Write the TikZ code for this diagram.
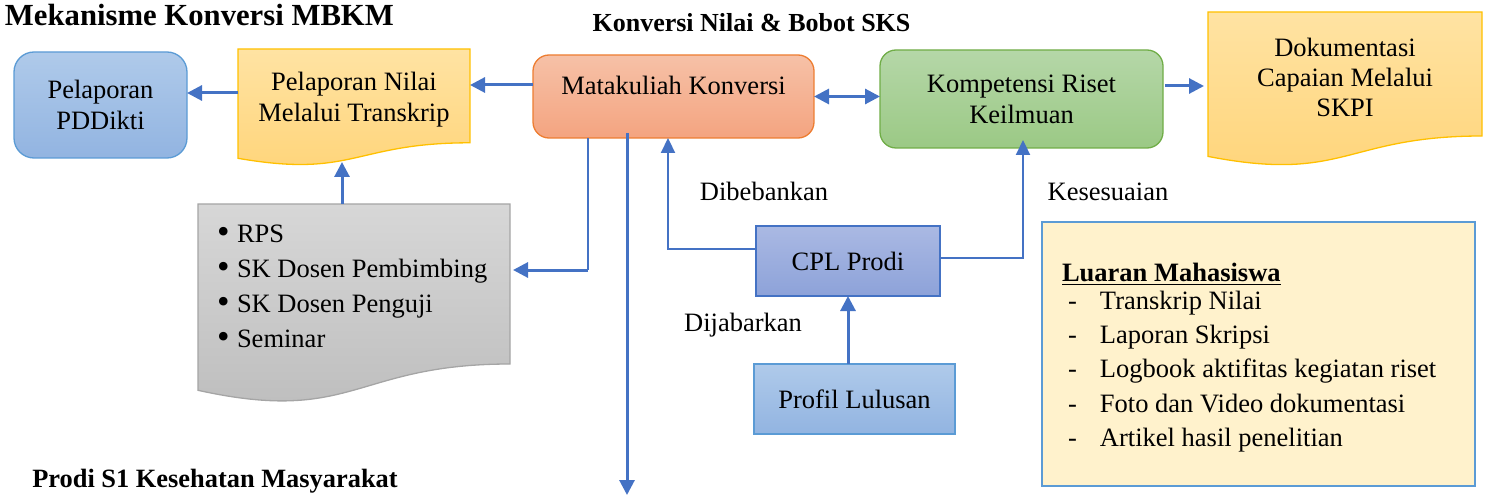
\documentclass[tikz,border=0pt]{standalone}
\usepackage{fontspec}
\setmainfont{Liberation Serif}
\usetikzlibrary{arrows.meta,calc}
\definecolor{arr}{HTML}{4472C4}
\definecolor{pdtop}{HTML}{AFCAEA}
\definecolor{pdbot}{HTML}{92B4E1}
\definecolor{bdblue}{HTML}{5B9BD5}
\definecolor{yltop}{HTML}{FFE3A3}
\definecolor{ylbot}{HTML}{FFD478}
\definecolor{ylbd}{HTML}{FFC000}
\definecolor{ortop}{HTML}{F6C1A7}
\definecolor{orbot}{HTML}{F4A480}
\definecolor{orbd}{HTML}{ED7D31}
\definecolor{grtop}{HTML}{B5D7A8}
\definecolor{grbot}{HTML}{9BC985}
\definecolor{grbd}{HTML}{70AD47}
\definecolor{cpltop}{HTML}{AAB9E3}
\definecolor{cplbot}{HTML}{8DA2D9}
\definecolor{gytop}{HTML}{D7D7D7}
\definecolor{gybot}{HTML}{BCBCBC}
\definecolor{gybd}{HTML}{A5A5A5}
\definecolor{lufill}{HTML}{FFF2CC}
\newcommand\myul[1]{\setbox0\hbox{#1}\rlap{\rule[-4pt]{\wd0}{1.8pt}}\box0}
\newcommand\mybul{\makebox[20pt][l]{\raisebox{-1.5pt}{\scalebox{1.35}{\textbullet}}}}
\begin{document}
\begin{tikzpicture}[x=1pt,y=-1pt,
  txt/.style={font=\fontsize{26.5}{31}\selectfont, align=center, inner sep=0pt, outer sep=0pt},
  shapebox/.style={inner sep=0pt, outer sep=0pt, line width=1.3pt},
  bound/.style={inner sep=0pt, outer sep=0pt, draw=none},
  docyellow/.style={draw=ylbd, line width=1.3pt, top color=yltop, bottom color=ylbot},
  docgray/.style={draw=gybd, line width=1.3pt, top color=gytop, bottom color=gybot},
  arrowthick/.style={draw=arr, line width=3pt, -{Triangle[length=15pt,width=15pt]}},
  arrowthin/.style={draw=arr, line width=2.2pt, -{Triangle[length=15pt,width=14pt]}},
  linethin/.style={draw=arr, line width=1.6pt},
  bothway/.style={draw=arr, line width=3pt, {Triangle[length=15pt,width=15pt]}-{Triangle[length=15pt,width=15pt]}}]
\useasboundingbox (0,0) rectangle (1491,497);

% document shapes
\path[docyellow] (238,49) -- (470,49) -- (470,142.8) .. controls (354,142.8) and (354,178.5) .. (238,158.3) -- cycle;
\path[docyellow] (1208,12) -- (1482,12) -- (1482,136) .. controls (1345,136) and (1345,183.1) .. (1208,156.4) -- cycle;
\path[docgray] (198,204) -- (510,204) -- (510,364) .. controls (354,364) and (354,424.8) .. (198,390.3) -- cycle;

% titles
\node[txt, font=\fontsize{30.7}{36}\selectfont\bfseries, anchor=base west] (title) at (5,25.5) {Mekanisme Konversi MBKM};
\node[txt, font=\fontsize{26}{31}\selectfont\bfseries, anchor=base] (sub) at (751.5,32) {Konversi Nilai \& Bobot SKS};
\node[txt, font=\fontsize{26.4}{31}\selectfont\bfseries, anchor=base] (prodi) at (215,487) {Prodi S1 Kesehatan Masyarakat};

% boxes
\node[txt, shapebox, rounded corners=20pt, draw=bdblue, top color=pdtop, bottom color=pdbot, minimum width=173pt, minimum height=106pt] (pd) at (100.5,105) {Pelaporan\\PDDikti};
\node[bound, minimum width=232pt, minimum height=114pt] (pn) at (354,106) {};
\node[txt] (pnt) at (354,99.5) {Pelaporan Nilai\\Melalui Transkrip};
\node[shapebox, rounded corners=16pt, draw=orbd, top color=ortop, bottom color=orbot, minimum width=281pt, minimum height=83pt] (mk) at (673.5,96.5) {};
\node[txt] (mkt) at (673.5,85) {Matakuliah Konversi};
\node[txt, shapebox, rounded corners=16pt, draw=grbd, top color=grtop, bottom color=grbot, minimum width=283pt, minimum height=98pt] (kr) at (1021.5,99) {Kompetensi Riset\\Keilmuan};
\node[bound, minimum width=274pt, minimum height=150.7pt] (doc) at (1345,87.35) {};
\node[txt, font=\fontsize{26.5}{30}\selectfont] (doct) at (1345,77) {Dokumentasi\\Capaian Melalui\\SKPI};
\node[bound, minimum width=312pt, minimum height=194.5pt] (gray) at (354,301.25) {};
\node[txt, align=left, font=\fontsize{26.5}{35}\selectfont, anchor=north west] (grayt) at (217,224.5)
  {\mybul RPS\\\mybul SK Dosen Pembimbing\\\mybul SK Dosen Penguji\\\mybul Seminar};
\node[txt, shapebox, draw=arr, top color=cpltop, bottom color=cplbot, minimum width=184pt, minimum height=70pt] (cpl) at (848,261) {CPL Prodi};
\node[txt, shapebox, draw=bdblue, top color=pdtop, bottom color=pdbot, minimum width=201pt, minimum height=70pt] (pl) at (854.5,399) {Profil Lulusan};
\node[shapebox, line width=2.6pt, draw=bdblue, fill=lufill, minimum width=433pt, minimum height=264pt] (lu) at (1258.5,354) {};
\node[txt, align=left, font=\fontsize{26.5}{34.2}\selectfont, anchor=north west] (lut) at (1062,263)
  {\myul{\bfseries Luaran Mahasiswa}\\[-6pt]
   \makebox[38pt][l]{\hspace{6pt}-}Transkrip Nilai\\
   \makebox[38pt][l]{\hspace{6pt}-}Laporan Skripsi\\
   \makebox[38pt][l]{\hspace{6pt}-}Logbook aktifitas kegiatan riset\\
   \makebox[38pt][l]{\hspace{6pt}-}Foto dan Video dokumentasi\\
   \makebox[38pt][l]{\hspace{6pt}-}Artikel hasil penelitian};

% labels
\node[txt, anchor=base] (lb1) at (764,200.5) {Dibebankan};
\node[txt, anchor=base] (lb2) at (1108,200.5) {Kesesuaian};
\node[txt, anchor=base] (lb3) at (743,331) {Dijabarkan};

% connectors
\coordinate (bottomend) at (627,495);
\coordinate (grcorner) at (588,270);
\draw[arrowthick] ($(pn.west)+(0,-13)$) -- ($(pn.west -| pd.east)+(0,-13)$);
\draw[arrowthick] ($(mk.west)+(0,-11.5)$) -- ($(mk.west -| pn.east)+(0,-11.5)$);
\draw[bothway] (mk.east) -- (mk.east -| kr.west);
\draw[arrowthick, shorten >=4pt] ($(kr.west -| kr.east)+(2,-13)$) -- ($(kr.west -| doc.west)+(0,-13)$);
\draw[arrowthick] ($(gray.north)+(-12,0)$) -- ($(pn.south)+(-12,-1)$);
\draw[linethin] (mk.south -| grcorner) -- (grcorner);
\draw[arrowthick] (grcorner) -- ($(grcorner -| gray.east)+(3,0)$);
\draw[arrowthick] ($(mk.south -| bottomend)+(0,-5)$) -- (bottomend);
\draw[arrowthin] ($(cpl.west)+(0,-12)$) -| ($(mk.south west)+(135,0)$);
\draw[arrowthin] ($(cpl.east)+(0,-3)$) -| ($(kr.south west)+(143,-8)$);
\draw[arrowthick] (pl.north -| cpl.south) -- (cpl.south);
\end{tikzpicture}
\end{document}
